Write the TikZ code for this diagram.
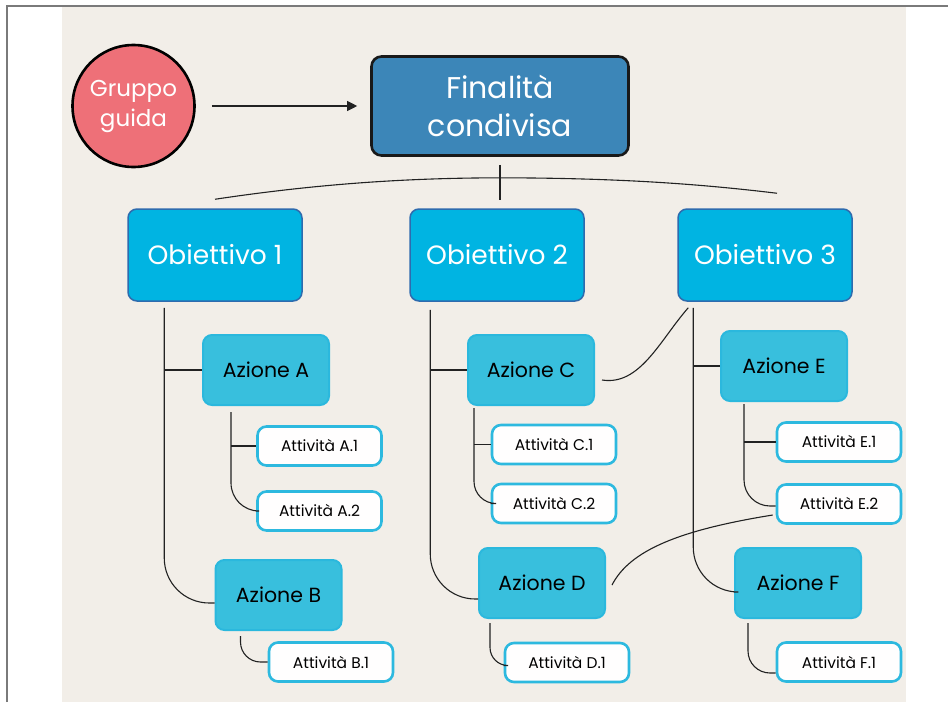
\documentclass[tikz,border=0pt]{standalone}
\usepackage{fontspec}
\setmainfont{Poppins}
\usetikzlibrary{arrows.meta,calc}
\definecolor{paper}{HTML}{F2EEE8}
\definecolor{frameg}{HTML}{7A7A7A}
\definecolor{rosa}{HTML}{EE7078}
\definecolor{steel}{HTML}{3C86B8}
\definecolor{obfill}{HTML}{00B4E2}
\definecolor{obline}{HTML}{2E6BAE}
\definecolor{azfill}{HTML}{38BFDD}
\definecolor{azline}{HTML}{2BB8DD}
\definecolor{atline}{HTML}{2DB9DF}
\definecolor{inkc}{HTML}{222222}
\begin{document}
\begin{tikzpicture}[x=1pt,y=-1pt,
  gruppostyle/.style={circle,fill=rosa,draw=black,line width=2.6pt,minimum size=122pt,inner sep=0pt,text=white,align=center,font=\fontsize{23}{30}\selectfont},
  finstyle/.style={rectangle,rounded corners=10pt,fill=steel,draw=black!90,line width=2.6pt,minimum width=257pt,minimum height=99pt,text=white,align=center,font=\fontsize{30}{38}\selectfont},
  obstyle/.style={rectangle,rounded corners=9pt,fill=obfill,draw=obline,line width=1.5pt,minimum width=174pt,minimum height=92pt,text=white,font=\fontsize{26.5}{30}\selectfont},
  azstyle/.style={rectangle,rounded corners=9pt,fill=azfill,draw=azline,line width=2pt,minimum width=126pt,minimum height=70pt,text=black,font=\fontsize{20.5}{24}\selectfont},
  atstyle/.style={rectangle,rounded corners=9pt,fill=white!97!paper,draw=atline,line width=2.6pt,minimum width=124pt,minimum height=39pt,text=black,font=\fontsize{15.5}{18}\selectfont},
  link/.style={draw=inkc,line width=1.1pt},
]
\useasboundingbox (0,0) rectangle (948,702);
\fill[white] (0,0) rectangle (948,702);
\fill[paper] (62,7) rectangle (906,702);
\draw[frameg,line width=1.5pt] (7,702) -- (7,6) -- (948,6);

% top level
\node[gruppostyle] (gr) at (133.5,106) {Gruppo\\guida};
\node[finstyle] (fin) at (500,106) {Finalità\\condivisa};
\draw[link,-{Triangle[length=10pt,width=10pt]},shorten <=16pt,shorten >=13pt] (gr.east) -- (fin.west);

% obiettivi
\node[obstyle] (o1) at (215,255) {Obiettivo 1};
\node[obstyle] (o2) at (497,255) {Obiettivo 2};
\node[obstyle] (o3) at (765,255) {Obiettivo 3};

% azioni
\node[azstyle] (aA) at (266,370) {Azione A};
\node[azstyle] (aB) at (278.5,595) {Azione B};
\node[azstyle] (aC) at (531,370) {Azione C};
\node[azstyle] (aD) at (542,583) {Azione D};
\node[azstyle] (aE) at (784,366) {Azione E};
\node[azstyle] (aF) at (798,583) {Azione F};

% attivita
\node[atstyle] (A1) at (319.5,446) {Attività A.1};
\node[atstyle] (A2) at (319.5,511) {Attività A.2};
\node[atstyle] (B1) at (331,662) {Attività B.1};
\node[atstyle] (C1) at (554,444.5) {Attività C.1};
\node[atstyle] (C2) at (554,503.5) {Attività C.2};
\node[atstyle] (D1) at (567,662.5) {Attività D.1};
\node[atstyle] (E1) at (839,442) {Attività E.1};
\node[atstyle] (E2) at (839,504) {Attività E.2};
\node[atstyle] (F1) at (839,662) {Attività F.1};

% top connector
\coordinate (tA) at ([yshift=9pt]o1.north);
\coordinate (tB) at ([xshift=12pt,yshift=15pt]o3.north);
\coordinate (tM) at ([yshift=-21pt]fin.south);
\draw[link] ([yshift=-8pt]fin.south) -- ([yshift=-43pt]fin.south);
\draw[link] (tA) .. controls (330,182) and (420,178) .. (tM) .. controls (620,178) and (700,184) .. (tB);

% obiettivo 1
\coordinate (s1) at ([xshift=37pt,yshift=-6pt]o1.south west);
\draw[link,rounded corners=45pt] (s1) |- ([yshift=-8pt]aB.west);
\draw[link] (s1 |- aA.west) -- (aA.west);
% azione A
\coordinate (sA) at ([xshift=29pt,yshift=-6pt]aA.south west);
\draw[link,rounded corners=28pt] (sA) |- (A2.west);
\draw[link] (sA |- A1.west) -- (A1.west);
% azione B
\coordinate (sB) at ([xshift=26pt,yshift=-5pt]aB.south west);
\draw[link,rounded corners=20pt] (sB) |- (B1.west);

% obiettivo 2
\coordinate (s2) at ([xshift=21pt,yshift=-8pt]o2.south west);
\draw[link,rounded corners=45pt] (s2) |- ([yshift=-16pt]aD.west);
\draw[link] (s2 |- aC.west) -- (aC.west);
% azione C
\coordinate (sC) at ([xshift=7pt,yshift=-2pt]aC.south west);
\draw[link,rounded corners=22pt] (sC) |- (C2.west);
\draw[link] (sC |- C1.west) -- (C1.west);
% azione D
\coordinate (sD) at ([xshift=12pt,yshift=-4pt]aD.south west);
\draw[link,rounded corners=18pt] (sD) |- ([yshift=-3pt]D1.west);

% obiettivo 3
\coordinate (s3) at ([xshift=16pt,yshift=-6pt]o3.south west);
\draw[link,rounded corners=45pt] (s3) |- ([yshift=-9pt]aF.west);
\draw[link] (s3 |- aE.west) -- (aE.west);
% azione E
\coordinate (sE) at ([xshift=24pt,yshift=-2pt]aE.south west);
\draw[link,rounded corners=26pt] (sE) |- ([yshift=-2pt]E2.west);
\draw[link] (sE |- E1.west) -- (E1.west);
% azione F
\coordinate (sF) at ([xshift=14pt,yshift=-4pt]aF.south west);
\draw[link,rounded corners=22pt] (sF) |- ([yshift=-11pt]F1.west);

% cross links
\draw[link] ([xshift=7pt,yshift=-10pt]aC.east) .. controls (640,386) and (660,340) .. ([xshift=11pt,yshift=-6pt]o3.south west);
\draw[link] ([xshift=6pt,yshift=-2pt]aD.east) .. controls (630,550) and (680,530) .. ([xshift=-3pt,yshift=-11pt]E2.west);
\end{tikzpicture}
\end{document}
